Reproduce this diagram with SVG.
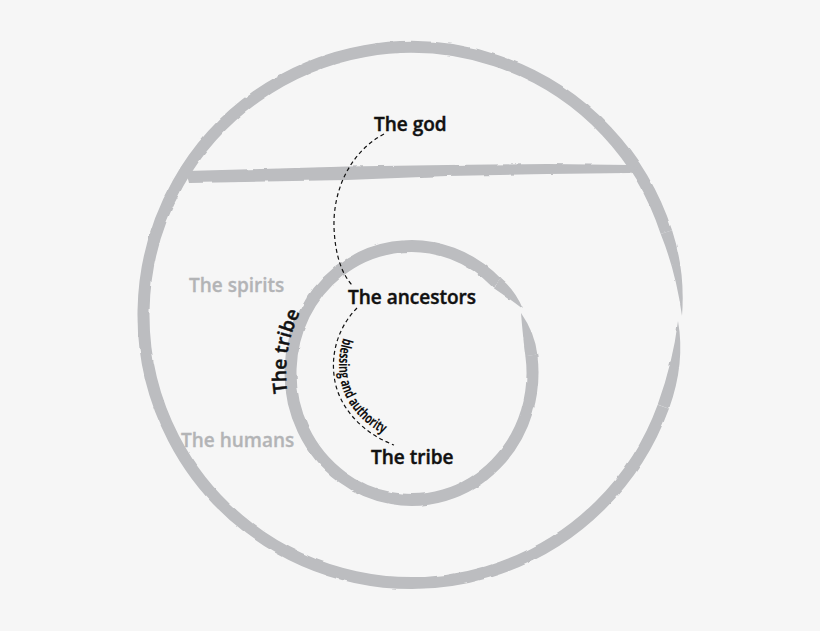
<svg xmlns="http://www.w3.org/2000/svg" xmlns:xlink="http://www.w3.org/1999/xlink" width="820" height="631" viewBox="0 0 820 631">
  <style>
    .ring { fill: none; stroke: #bcbdc0; stroke-width: 12; stroke-linecap: butt; }
    .brush { fill: #bcbdc0; stroke: none; }
    .lbl { font-family: "Open Sans", "Noto Sans", "Liberation Sans", sans-serif; font-weight: 600; font-size: 19px; fill: #111111; stroke: #111111; stroke-width: 0.45; }
    .realm { font-family: "Open Sans", "Noto Sans", "Liberation Sans", sans-serif; font-weight: 600; font-size: 19px; fill: #b3b4b6; stroke: #b3b4b6; stroke-width: 0.3; }
    .edge { fill: none; stroke: #111111; stroke-width: 1.2; stroke-dasharray: 4 3; }
    .edge-lbl { font-family: "Open Sans", "Noto Sans", "Liberation Sans", sans-serif; font-weight: 700; font-size: 14.5px; fill: #111111; }
  </style>
  <defs>
    <filter id="rough" x="-5%" y="-5%" width="110%" height="110%">
      <feTurbulence type="fractalNoise" baseFrequency="0.07" numOctaves="2" seed="3" result="n"/>
      <feDisplacementMap in="SourceGraphic" in2="n" scale="2.5" xChannelSelector="R" yChannelSelector="G"/>
    </filter>
    <path id="tribeArc" d="M 293.6,418 A 125.5 131.5 0 0 1 330.8,272.3"/>
    <path id="blessArc" d="M 360,311 C 343,327 337,352 339.5,375 C 342.5,403 364,428 396,439"/>
  </defs>
  <rect width="820" height="631" fill="#f6f6f6"/>

  <g id="realms" filter="url(#rough)">
    <g id="ring-outer">
      <path class="ring" d="M 666.4,232.2 A 268 268 0 1 0 663.3,406.7"/>
      <path class="brush" d="M 672.1,230.3 Q 685.5,271.6 682,316 Q 676,272 660.7,234 Z"/>
      <path class="brush" d="M 678,321 Q 685.5,363.3 669,408.7 L 657.7,404.6 Q 673,362 678,321 Z"/>
    </g>
    <g id="divider">
      <path class="brush" d="M 186,171 L 347,166.5 L 447,165 L 547,164 L 630,165 L 638,168 L 630,173 L 547,174 L 447,176 L 347,180 L 189,183 Z"/>
    </g>
    <g id="ring-inner">
      <path class="ring" d="M 497.06,283.2 A 121 127 0 1 0 531.33,355.32"/>
      <path class="brush" d="M 501.3,278.95 Q 515,290 523,309 Q 507,297 492.8,287.4 Z"/>
      <path class="brush" d="M 537.3,354.5 Q 535,333 521,313 Q 523,338 525.4,356.2 Z"/>
    </g>
  </g>

  <g id="label-spirits"><text class="realm" x="189" y="292">The spirits</text></g>
  <g id="label-humans"><text class="realm" x="181" y="447">The humans</text></g>

  <g id="connectors">
    <path id="edge-god-ancestors" class="edge" d="M 384,134 C 350,152 333,190 334,227 C 335,255 342,275 353,286"/>
    <path id="edge-ancestors-tribe" class="edge" d="M 357,308 C 340,325 331,350 334,375 C 337,405 360,432 394,445"/>
    <text class="edge-lbl" textLength="114" lengthAdjust="spacingAndGlyphs"><textPath xlink:href="#blessArc" href="#blessArc" startOffset="32">blessing and authority</textPath></text>
  </g>

  <g id="node-god"><text class="lbl" x="374" y="131">The god</text></g>
  <g id="node-ancestors"><text class="lbl" x="348" y="304">The ancestors</text></g>
  <g id="node-tribe"><text class="lbl" x="371" y="464">The tribe</text></g>
  <g id="label-tribe-ring"><text class="lbl"><textPath xlink:href="#tribeArc" href="#tribeArc" startOffset="26">The tribe</textPath></text></g>
</svg>
